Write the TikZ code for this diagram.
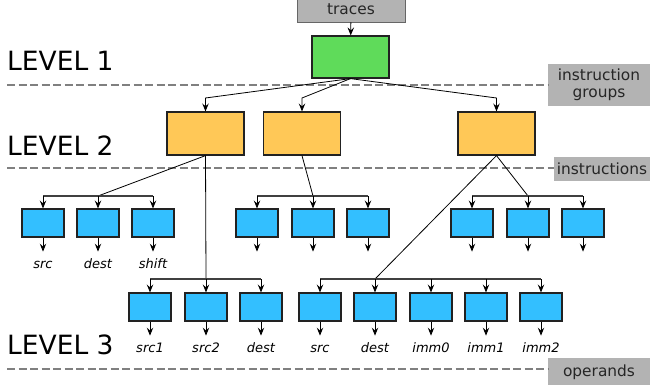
\documentclass[tikz,border=0pt]{standalone}
\usepackage{fontspec}
\setmainfont{DejaVu Sans}
\usetikzlibrary{arrows.meta,positioning}

\definecolor{grpgreen}{HTML}{5FDB5A}
\definecolor{insorange}{HTML}{FFC857}
\definecolor{opblue}{HTML}{33BFFF}
\definecolor{taggray}{HTML}{B3B3B3}
\definecolor{sepgray}{HTML}{808080}
\definecolor{edgegray}{HTML}{222222}

\tikzset{
  arr/.style={line width=0.8pt, -{Stealth[length=8pt,width=6.5pt,inset=3pt]}},
  link/.style={line width=0.8pt},
  bar/.style={line width=1.4pt, draw=black!75},
  sepline/.style={line width=2.4pt, sepgray, dash pattern=on 8pt off 3.5pt},
  lvl/.style={anchor=base west, inner sep=0pt, font=\fontsize{26.5}{30}\selectfont},
  tag/.style={fill=taggray, text=black!85, inner sep=0pt, align=center,
              font=\fontsize{15.4}{17.5}\selectfont},
  grpbox/.style={draw=edgegray, line width=1.2pt, fill=grpgreen, minimum width=77pt, minimum height=42pt},
  insbox/.style={draw=edgegray, line width=1.2pt, fill=insorange, minimum width=77pt, minimum height=43pt},
  opbox/.style={draw=edgegray, line width=1.2pt, fill=opblue, minimum width=42pt, minimum height=28pt, inner sep=0pt},
  opname/.style={inner sep=0pt, text height=9pt, text depth=3pt, font=\fontsize{13}{15}\selectfont\itshape}
}

\begin{document}
\begin{tikzpicture}[x=1pt,y=-1pt]
\useasboundingbox (0,0) rectangle (650,385);

% level names and separators
\node[lvl] (lv1) at (7,71) {LEVEL 1};
\node[lvl] (lv2) at (7,155) {LEVEL 2};
\node[lvl] (lv3) at (7,354) {LEVEL 3};

\node[tag, draw=black!60, line width=0.8pt, minimum width=108pt, minimum height=26pt] (tr) at (351,9) {traces};
\node[tag, minimum width=102pt, minimum height=42pt] (ig) at (599,85) {instruction\\groups};
\node[tag, minimum width=96pt, minimum height=24pt] (in) at (602,169) {instructions};
\node[tag, minimum width=102pt, minimum height=28pt] (op) at (599,372) {operands};

\coordinate (s1) at (7,85);
\coordinate (s2) at (7,168);
\coordinate (s3) at (7,369);
\path[draw,sepline] (s1) -- (s1 -| ig.west);
\path[draw,sepline] (s2) -- (s2 -| in.west);
\path[draw,sepline] (s3) -- (s3 -| op.west);

% level 1 and 2
\node[grpbox] (g) at (350.5,57) {};
\node[insbox] (ia) at (205.5,133.5) {};
\node[insbox] (ib) at (302,133.5) {};
\node[insbox] (ic) at (496.5,133.5) {};

\coordinate (k2) at (0,98);
\path[draw,arr] (tr) -- (g);
\path[draw,arr] (g.south) -- (ia.north |- k2) -- (ia.north);
\path[draw,arr] (g.south) -- (ib.north |- k2) -- (ib.north);
\path[draw,arr] (g.south) -- (ic.north |- k2) -- (ic.north);

% level 3, upper row
\node[opbox] (a1) at (43,223) {};
\node[opbox] (a2) at (98,223) {};
\node[opbox] (a3) at (153,223) {};
\node[opbox] (b1) at (257,223) {};
\node[opbox] (b2) at (313,223) {};
\node[opbox] (b3) at (368,223) {};
\node[opbox] (c1) at (472,223) {};
\node[opbox] (c2) at (528,223) {};
\node[opbox] (c3) at (583,223) {};

% level 3, lower row
\node[opbox] (d1) at (150,307) {};
\node[opbox] (d2) at (206,307) {};
\node[opbox] (d3) at (261,307) {};
\node[opbox] (e1) at (320,307) {};
\node[opbox] (e2) at (375,307) {};
\node[opbox] (e3) at (431,307) {};
\node[opbox] (e4) at (486,307) {};
\node[opbox] (e5) at (541,307) {};

\coordinate (k3a) at (0,196);
\coordinate (k3b) at (0,279);

\path[draw,link] (ia.south) -- (a2.north |- k3a);
\path[draw,link] (ib.south) -- (b2.north |- k3a);
\path[draw,link] (ic.south) -- (c2.north |- k3a);
\path[draw,link] (ia.south) -- (d2.north |- k3b);
\path[draw,link] (ic.south) -- (e2.north |- k3b);

\path[draw,bar] (a1.north |- k3a) -- (a3.north |- k3a);
\path[draw,bar] (b1.north |- k3a) -- (b3.north |- k3a);
\path[draw,bar] (c1.north |- k3a) -- (c3.north |- k3a);
\path[draw,bar] (d1.north |- k3b) -- (d3.north |- k3b);
\path[draw,bar] (e1.north |- k3b) -- (e5.north |- k3b);

\foreach \n in {a1,a2,a3,b1,b2,b3,c1,c2,c3}
  \path[draw,arr] (\n.north |- k3a) -- (\n.north);
\foreach \n in {d1,d2,d3,e1,e2,e3,e4,e5}
  \path[draw,arr] (\n.north |- k3b) -- (\n.north);

% operand outputs
\foreach \n in {a1,a2,a3,b1,b2,b3,c1,c2,c3,d1,d2,d3,e1,e2,e3,e4,e5}
  \coordinate[below=14pt of \n] (\n e);
\foreach \n in {a1,a2,a3,b1,b2,b3,c1,c2,c3,d1,d2,d3,e1,e2,e3,e4,e5}
  \path[draw,arr] (\n.south) -- (\n e);

\node[opname, below=8pt of a1e] (ta1) {src};
\node[opname, below=8pt of a2e] (ta2) {dest};
\node[opname, below=8pt of a3e] (ta3) {shift};
\node[opname, below=8pt of d1e] (td1) {src1};
\node[opname, below=8pt of d2e] (td2) {src2};
\node[opname, below=8pt of d3e] (td3) {dest};
\node[opname, below=8pt of e1e] (te1) {src};
\node[opname, below=8pt of e2e] (te2) {dest};
\node[opname, below=8pt of e3e] (te3) {imm0};
\node[opname, below=8pt of e4e] (te4) {imm1};
\node[opname, below=8pt of e5e] (te5) {imm2};
\end{tikzpicture}
\end{document}
